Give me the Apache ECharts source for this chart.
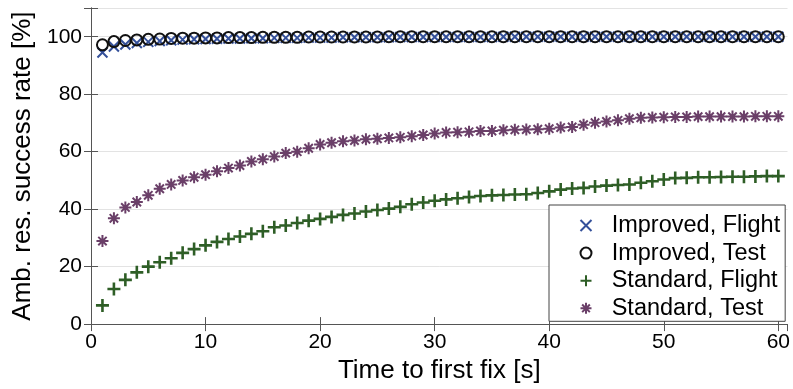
<!DOCTYPE html>
<html>
<head>
<meta charset="utf-8">
<script src="https://cdn.jsdelivr.net/npm/echarts@6/dist/echarts.min.js"></script>
<style>
  html, body { margin: 0; padding: 0; background: #fff; }
  #chart { width: 793px; height: 389px; }
</style>
</head>
<body>
<div id="chart"></div>
<script>
const times = [];
for (let t = 1; t <= 60; t++) times.push(t);

const improvedFlight = [
  94.5, 96.6, 97.3, 97.8, 98.2, 98.5, 98.8, 99.0, 99.1, 99.2,
  99.3, 99.4, 99.4, 99.5, 99.5, 99.6, 99.6, 99.6, 99.7, 99.7,
  99.7, 99.8, 99.8, 99.8, 99.8, 99.8, 99.9, 99.9, 99.9, 99.9,
  99.9, 99.9, 99.9, 99.9, 99.9, 100, 100, 100, 100, 100,
  100, 100, 100, 100, 100, 100, 100, 100, 100, 100,
  100, 100, 100, 100, 100, 100, 100, 100, 100, 100
];
const improvedTest = [
  97.2, 98.3, 98.7, 98.9, 99.1, 99.2, 99.4, 99.5, 99.5, 99.6,
  99.6, 99.7, 99.7, 99.7, 99.8, 99.8, 99.8, 99.8, 99.9, 99.9,
  99.9, 99.9, 99.9, 99.9, 99.9, 100, 100, 100, 100, 100,
  100, 100, 100, 100, 100, 100, 100, 100, 100, 100,
  100, 100, 100, 100, 100, 100, 100, 100, 100, 100,
  100, 100, 100, 100, 100, 100, 100, 100, 100, 100
];
const standardFlight = [
  6.5, 12.2, 15.4, 18.0, 20.0, 21.5, 22.9, 24.8, 26.1, 27.4,
  28.6, 29.6, 30.5, 31.4, 32.3, 33.7, 34.3, 35.2, 36.0, 36.6,
  37.3, 38.0, 38.5, 39.2, 39.7, 40.2, 40.8, 41.7, 42.3, 42.9,
  43.4, 43.8, 44.2, 44.6, 44.8, 44.9, 45.1, 45.2, 45.6, 46.2,
  46.8, 47.2, 47.4, 47.9, 48.2, 48.4, 48.6, 49.2, 49.7, 50.3,
  50.8, 50.9, 51.1, 51.1, 51.2, 51.3, 51.3, 51.4, 51.5, 51.5
];
const standardTest = [
  28.9, 36.8, 40.6, 42.5, 44.8, 47.1, 48.6, 50.0, 51.1, 52.0,
  53.2, 54.3, 55.2, 56.6, 57.4, 58.3, 59.5, 60.0, 61.2, 62.5,
  63.1, 63.6, 63.9, 64.3, 64.5, 64.8, 65.0, 65.4, 65.8, 66.3,
  66.7, 66.8, 66.9, 67.2, 67.2, 67.5, 67.6, 67.7, 67.8, 68.0,
  68.4, 68.6, 69.4, 70.1, 70.5, 70.9, 71.5, 71.8, 71.9, 72.0,
  72.1, 72.1, 72.2, 72.2, 72.2, 72.2, 72.2, 72.3, 72.3, 72.3
];

const seriesNames = ["Improved, Flight", "Improved, Test", "Standard, Flight", "Standard, Test"];
const yTicks = [0, 20, 40, 60, 80, 100];

const font = "'Liberation Sans', Arial, sans-serif";
const frameColor = "#555";

// stroked marker shapes (matlab-like x, +, *)
const crossPath = "path://M0,0L10,10M10,0L0,10";
const plusPath = "path://M5,0L5,10M0,5L10,5";
const starPath = "path://M5,0L5,10M0,5L10,5M1.5,1.5L8.5,8.5M8.5,1.5L1.5,8.5";

const pairs = (ys) => times.map((t, i) => [t, ys[i]]);

const chart = echarts.init(document.getElementById("chart"), null, { renderer: "canvas" });

// top / right axes just close the box
const frameAxis = {
  axisLine: { show: true, lineStyle: { color: frameColor, width: 1 } },
  axisTick: { show: true, inside: true, length: 7, lineStyle: { color: frameColor } },
  axisLabel: { show: false },
  splitLine: { show: false },
};

chart.setOption({
  animation: false,
  textStyle: { fontFamily: font },
  grid: { left: 91, right: 2, top: 8, bottom: 61 },
  xAxis: [
    {
      type: "value",
      min: 0,
      max: 60.8,
      interval: 10,
      name: "Time to first fix [s]",
      nameLocation: "middle",
      nameGap: 30,
      nameTextStyle: { fontSize: 26, color: "#000", fontFamily: font },
      axisLine: { show: true, onZero: false, lineStyle: { color: frameColor } },
      axisTick: { show: true, inside: true, length: 7, lineStyle: { color: frameColor } },
      axisLabel: { fontSize: 21, color: "#000", margin: 8, showMaxLabel: false, fontFamily: font },
      splitLine: { show: false },
    },
    Object.assign({ type: "value", position: "top", min: 0, max: 60.8, interval: 10 }, frameAxis),
  ],
  yAxis: [
    {
      type: "value",
      min: 0,
      max: 110,
      interval: 20,
      name: "Amb. res. success rate [%]",
      nameLocation: "middle",
      nameGap: 50,
      nameTextStyle: { fontSize: 26, color: "#000", fontFamily: font },
      axisLine: { show: true, onZero: false, lineStyle: { color: frameColor } },
      axisTick: { show: true, inside: true, length: 7, lineStyle: { color: frameColor } },
      axisLabel: {
        fontSize: 21, color: "#000", margin: 9, fontFamily: font,
        formatter: (v) => (yTicks.includes(v) ? String(v) : ""),
      },
      splitLine: { show: true, lineStyle: { color: "#e3e3e3", width: 1 } },
    },
    Object.assign({ type: "value", position: "right", min: 0, max: 110, interval: 20 }, frameAxis),
  ],
  legend: {
    orient: "vertical",
    left: 549,
    top: 205,
    padding: [8.5, 5, 1, 29],
    itemWidth: 16,
    itemHeight: 11,
    itemGap: 3.6,
    backgroundColor: "#fff",
    borderColor: "#444",
    borderWidth: 1,
    borderRadius: 0,
    formatter: (name) => "{n|" + name + "}",
    textStyle: {
      fontSize: 23.5, lineHeight: 24, color: "#000", fontFamily: font,
      rich: { n: { fontSize: 23.5, lineHeight: 24, color: "#000", fontFamily: font, padding: [0, 0, 0, 12.7] } },
    },
    data: seriesNames,
  },
  series: [
    {
      name: seriesNames[0],
      type: "scatter",
      data: pairs(improvedFlight),
      symbol: crossPath,
      symbolSize: 10,
      itemStyle: { color: "none", borderColor: "#34509a", borderWidth: 2, opacity: 1 },
      z: 2,
    },
    {
      name: seriesNames[1],
      type: "scatter",
      data: pairs(improvedTest),
      symbol: "circle",
      symbolSize: 11,
      itemStyle: { color: "none", borderColor: "#111", borderWidth: 2, opacity: 1 },
      z: 3,
    },
    {
      name: seriesNames[2],
      type: "scatter",
      data: pairs(standardFlight),
      symbol: plusPath,
      symbolSize: 13,
      itemStyle: { color: "none", borderColor: "#2e5e26", borderWidth: 2.6, opacity: 1 },
      z: 2,
    },
    {
      name: seriesNames[3],
      type: "scatter",
      data: pairs(standardTest),
      symbol: starPath,
      symbolSize: 12,
      itemStyle: { color: "none", borderColor: "#6a3f68", borderWidth: 2, opacity: 1 },
      z: 2,
    },
  ],
});
</script>
</body>
</html>
